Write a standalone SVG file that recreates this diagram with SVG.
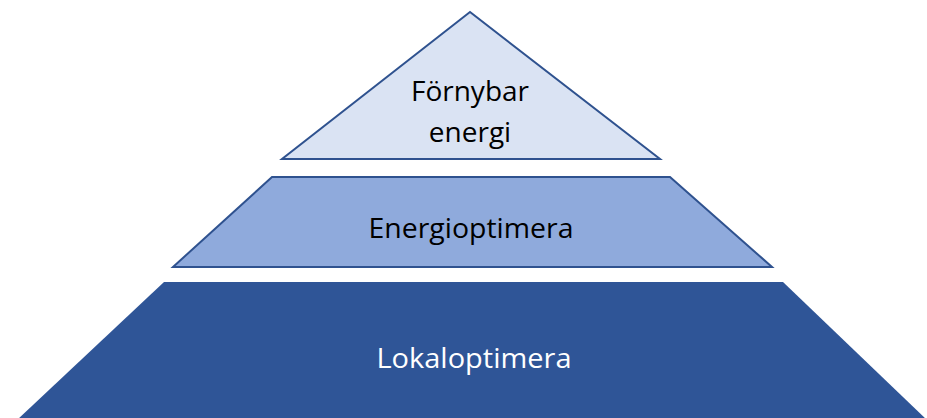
<svg xmlns="http://www.w3.org/2000/svg" width="927" height="418" viewBox="0 0 927 418">
<style>
.t{font-family:"Open Sans","Noto Sans",sans-serif;font-size:28px;text-anchor:middle}
.edge{stroke:#2F528F;stroke-width:2;stroke-linejoin:miter}
</style>
<rect width="927" height="418" fill="#ffffff"/>
<g id="level-top">
<polygon class="edge" points="470,12 282,159 660,159" fill="#DAE3F3"/>
<text class="t" x="470" y="101" fill="#000">Förnybar</text>
<text class="t" x="470" y="142" fill="#000">energi</text>
</g>
<g id="level-middle">
<polygon class="edge" points="272,177 670,177 772,267 173,267" fill="#8FAADC"/>
<text class="t" x="471" y="238" fill="#000" textLength="205" lengthAdjust="spacingAndGlyphs">Energioptimera</text>
</g>
<g id="level-bottom">
<polygon points="164,282 783,282 927,420 17,420" fill="#2F5597"/>
<text class="t" x="474" y="368" fill="#fff" textLength="195" lengthAdjust="spacingAndGlyphs">Lokaloptimera</text>
</g>
<g id="connectors"></g>
</svg>
